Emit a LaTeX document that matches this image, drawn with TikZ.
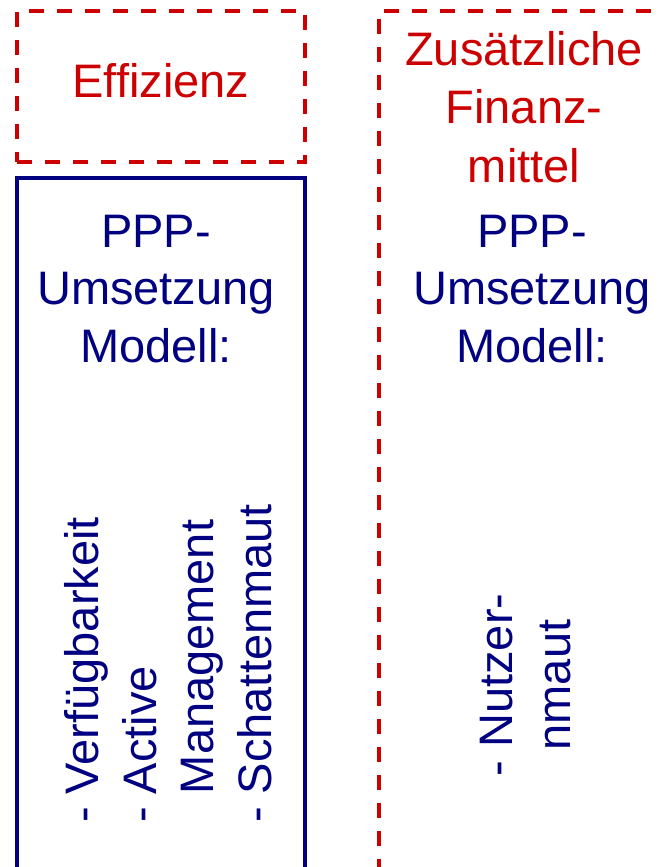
\documentclass[tikz,border=0pt]{standalone}
\usepackage{fontspec}
\setmainfont{Liberation Sans}
\definecolor{dred}{RGB}{204,0,0}
\definecolor{navy}{RGB}{0,0,128}
\begin{document}
\begin{tikzpicture}[x=1pt,y=-1pt,
  redbox/.style={draw=dred,line width=3.8pt,dash pattern=on 15pt off 13pt,inner sep=0pt,anchor=north west},
  bluebox/.style={draw=navy,line width=3.8pt,inner sep=0pt,anchor=north west},
  lbl/.style={font=\fontsize{47}{57.5}\selectfont,inner sep=0pt,align=center,anchor=base},
  redtxt/.style={lbl,text=dred},
  bluetxt/.style={lbl,text=navy},
  vlist/.style={font=\fontsize{47}{57.5}\selectfont,inner sep=0pt,text=navy,rotate=90}]
\useasboundingbox (0,0) rectangle (657,867);
\clip (0,0) rectangle (657,867);
% boxes
\node[redbox,minimum width=288pt,minimum height=151pt] (effbox) at (15,9) {};
\node[bluebox,minimum width=288pt,minimum height=730pt] (pppbox) at (15,176) {};
\node[redbox,minimum width=330pt,minimum height=900pt] (finbox) at (377,9) {};
% texts (anchor base = baseline of the last line)
\node[redtxt] (eff) at (161,97) {Effizienz};
\node[redtxt,font=\fontsize{47}{58.5}\selectfont] (fin) at (524,182) {Zusätzliche\\Finanz-\\mittel};
\node[bluetxt] (pppL) at (156,362) {PPP-\\Umsetzung\\Modell:};
\node[bluetxt] (pppR) at (532,362) {PPP-\\Umsetzung\\Modell:};
\node[vlist,align=left,anchor=base west] (listL) at (271,823)
  {- Verfügbarkeit\\- Active\\\hphantom{- }Management\\- Schattenmaut};
\node[vlist,align=center,anchor=base] (listR) at (570,685) {- Nutzer-\\nmaut};
\end{tikzpicture}
\end{document}
